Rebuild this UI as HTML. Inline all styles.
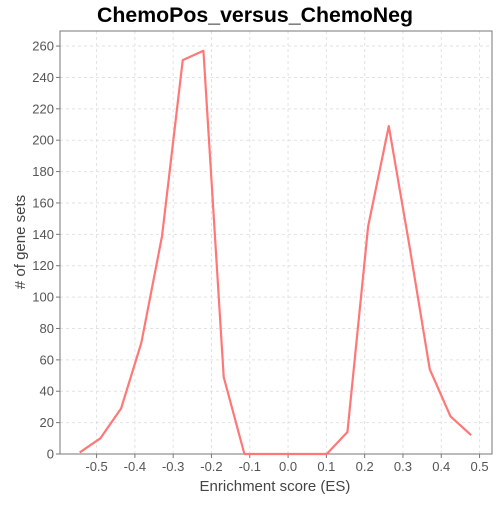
<!DOCTYPE html>
<html><head><meta charset="utf-8"><style>
body{margin:0;background:#fff;font-family:"Liberation Sans","DejaVu Sans",sans-serif}
</style></head><body>
<svg id="chart" width="500" height="500" xmlns="http://www.w3.org/2000/svg">
<text x="255" y="22" text-anchor="middle" font-size="21" font-weight="bold" fill="#000" textLength="316" lengthAdjust="spacingAndGlyphs">ChemoPos_versus_ChemoNeg</text>
<g id="grid"></g>
<rect x="60" y="31" width="432" height="423" fill="none" stroke="#777" stroke-width="1"/>
<g id="ticks"></g>
<polyline id="line" fill="none" stroke="#ff7777" stroke-width="2.2" stroke-linejoin="round"/>
<text x="275" y="491" text-anchor="middle" font-size="15" fill="#444">Enrichment score (ES)</text>
<text transform="translate(25,242) rotate(-90)" text-anchor="middle" font-size="15" fill="#444"># of gene sets</text>
</svg>
<script>
const esValues=[-0.544,-0.490,-0.436,-0.383,-0.329,-0.275,-0.221,-0.168,-0.114,-0.060,-0.006,0.048,0.101,0.155,0.209,0.263,0.316,0.370,0.424,0.478];
const counts=[1,10,29,71,139,251,257,49,0,0,0,0,0,14,145,209,134,54,24,12];
const xTicks=[-0.5,-0.4,-0.3,-0.2,-0.1,0.0,0.1,0.2,0.3,0.4,0.5];
const yTicks=[0,20,40,60,80,100,120,140,160,180,200,220,240,260];
const L=60,R=492,T=31,B=454;
const xMin=-0.5955,xMax=0.5325,yMin=0,yMax=269.6;
const sx=v=>L+(v-xMin)/(xMax-xMin)*(R-L);
const sy=v=>B-(v-yMin)/(yMax-yMin)*(B-T);
const NS="http://www.w3.org/2000/svg";
const grid=document.getElementById('grid'),ticks=document.getElementById('ticks');
function mk(tag,attrs,parent){const e=document.createElementNS(NS,tag);for(const k in attrs)e.setAttribute(k,attrs[k]);parent.appendChild(e);return e;}
xTicks.forEach(t=>{const x=sx(t);
 const g=mk('line',{x1:x,x2:x,y1:T,y2:B,stroke:'#e2e2e2','stroke-dasharray':'3,3'},grid);
 
 
 const tk=mk('line',{x1:x,x2:x,y1:B,y2:B+4,stroke:'#777'},ticks);
 
 
 const tx=mk('text',{x:x,y:B+17,'text-anchor':'middle','font-size':'13',fill:'#555'},ticks);
 tx.textContent=t.toFixed(1);
 
 
});
yTicks.forEach(t=>{const y=sy(t);
 const g=mk('line',{x1:L,x2:R,y1:y,y2:y,stroke:'#e2e2e2','stroke-dasharray':'3,3'},grid);
 
 
 const tk=mk('line',{x1:L-4,x2:L,y1:y,y2:y,stroke:'#777'},ticks);
 
 
 const tx=mk('text',{x:L-6,y:y+4.5,'text-anchor':'end','font-size':'13',fill:'#555'},ticks);
 tx.textContent=t;
 
 
});
document.getElementById('line').setAttribute('points',esValues.map((v,i)=>sx(v)+','+sy(counts[i])).join(' '));
</script>
</body></html>
